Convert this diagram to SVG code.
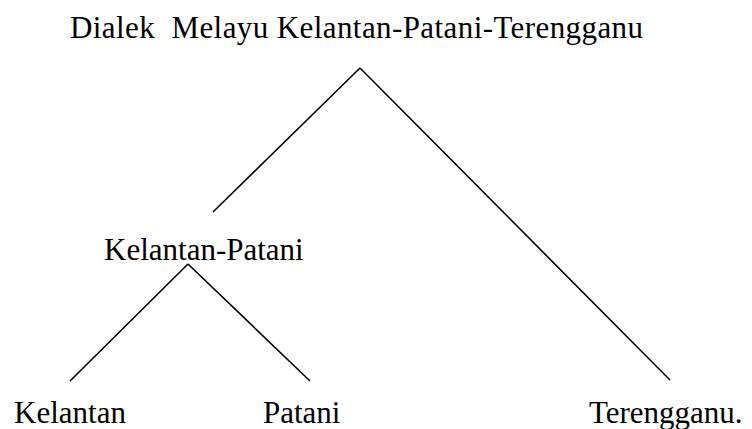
<svg xmlns="http://www.w3.org/2000/svg" width="752" height="429" viewBox="0 0 752 429">
<style>
.t{font-family:"Liberation Serif","Times New Roman",serif;font-size:31px;fill:#000}
.c line{stroke:#000;stroke-width:1.6;fill:none}
</style>
<rect width="752" height="429" fill="#fff"/>
<g id="root"><text class="t" x="70" y="38" xml:space="preserve" textLength="573" lengthAdjust="spacing">Dialek  Melayu Kelantan-Patani-Terengganu</text></g>
<g id="kelantan-patani"><text class="t" x="104" y="260">Kelantan-Patani</text></g>
<g id="kelantan"><text class="t" x="14" y="423">Kelantan</text></g>
<g id="patani"><text class="t" x="263" y="423">Patani</text></g>
<g id="terengganu"><text class="t" x="589" y="423">Terengganu.</text></g>
<g class="c" id="connectors">
<line x1="360" y1="68" x2="213" y2="212"/>
<line x1="360" y1="68" x2="670" y2="380"/>
<line x1="188" y1="264" x2="70" y2="381"/>
<line x1="188" y1="264" x2="310" y2="381"/>
</g>
</svg>
